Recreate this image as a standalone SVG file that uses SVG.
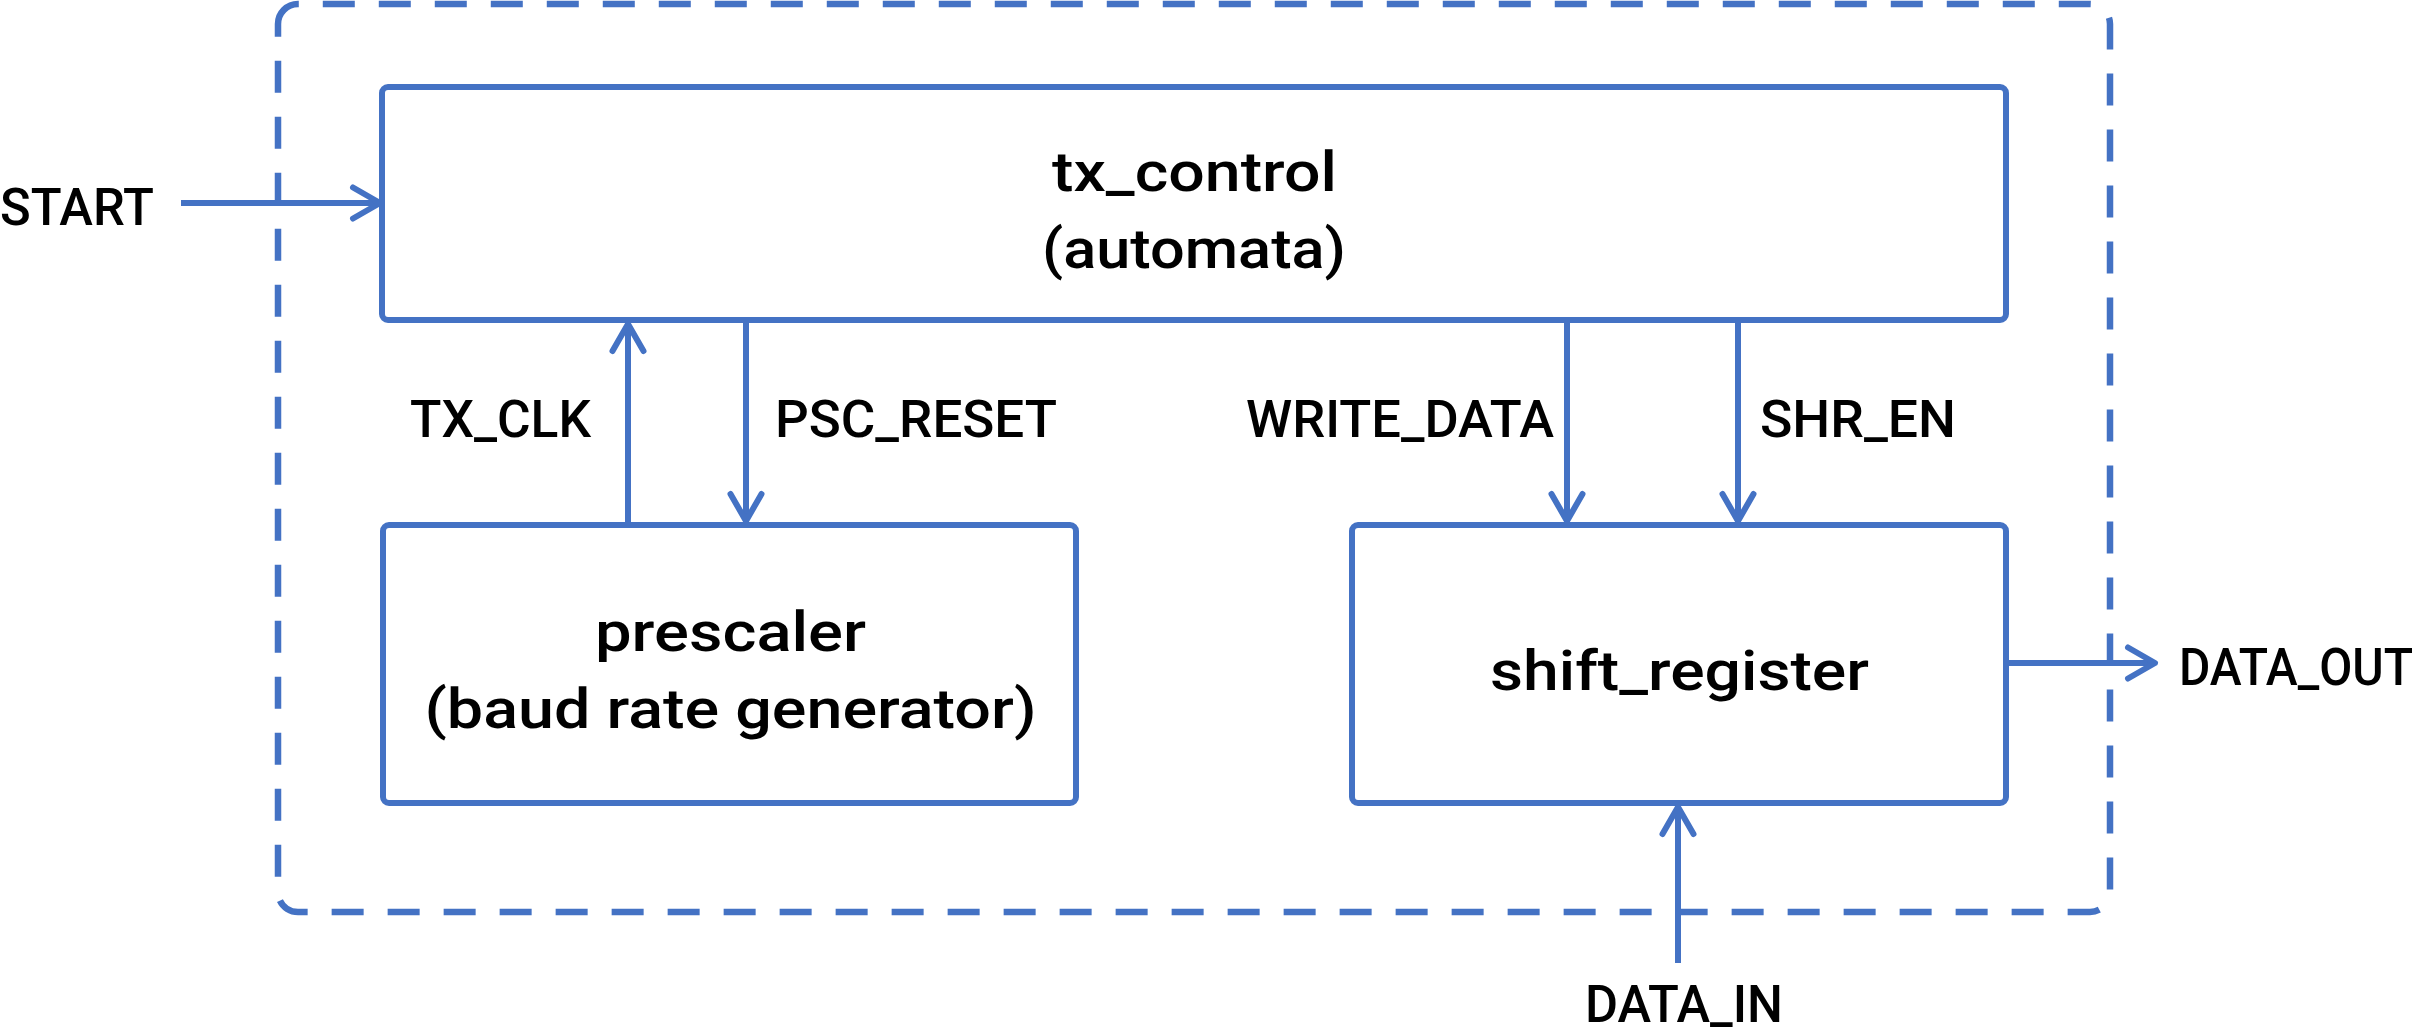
<svg xmlns="http://www.w3.org/2000/svg" width="2423" height="1029" viewBox="0 0 2423 1029">
  <style>
    .frame { fill: none; stroke: #4472C4; stroke-width: 6.5; stroke-dasharray: 32 24; }
    .block { fill: #FFFFFF; stroke: #4472C4; stroke-width: 6; }
    .wire { fill: none; stroke: #4472C4; stroke-width: 6; stroke-linecap: butt; }
    .title { font-family: Roboto, "Liberation Sans", sans-serif; font-weight: 500; font-size: 56px; fill: #000000; text-anchor: middle; }
    .sig { font-family: Roboto, "Liberation Sans", sans-serif; font-weight: 500; font-size: 52px; fill: #000000; }
  </style>
  <defs>
    <marker id="open-arrow" markerUnits="userSpaceOnUse" markerWidth="60" markerHeight="60" refX="0" refY="0" viewBox="-40 -30 60 60" orient="auto" overflow="visible">
      <path d="M-27,-15.5 L0,0 L-27,15.5" fill="none" stroke="#4472C4" stroke-width="6" stroke-linecap="round" stroke-linejoin="round"/>
    </marker>
  </defs>

  <rect width="2423" height="1029" fill="#FFFFFF"/>

  <!-- transmitter boundary -->
  <path id="uart-tx-boundary" class="frame" d="M278,24 A20,20 0 0 1 298,4 H2090 A20,20 0 0 1 2110,24 V892 A20,20 0 0 1 2090,912 H298 A20,20 0 0 1 278,892 Z"/>

  <!-- signal wires -->
  <g id="connectors">
    <path id="wire-start" class="wire" d="M181,203 H380" marker-end="url(#open-arrow)"/>
    <path id="wire-tx-clk" class="wire" d="M628,525 V324" marker-end="url(#open-arrow)"/>
    <path id="wire-psc-reset" class="wire" d="M746,320 V521" marker-end="url(#open-arrow)"/>
    <path id="wire-write-data" class="wire" d="M1567,320 V521" marker-end="url(#open-arrow)"/>
    <path id="wire-shr-en" class="wire" d="M1738,320 V521" marker-end="url(#open-arrow)"/>
    <path id="wire-data-out" class="wire" d="M2006,663 H2155" marker-end="url(#open-arrow)"/>
    <path id="wire-data-in" class="wire" d="M1678,963 V807" marker-end="url(#open-arrow)"/>

    <text class="sig" x="0" y="225" textLength="154" lengthAdjust="spacingAndGlyphs">START</text>
    <text class="sig" x="410" y="437" textLength="181" lengthAdjust="spacingAndGlyphs">TX_CLK</text>
    <text class="sig" x="775" y="437" textLength="282" lengthAdjust="spacingAndGlyphs">PSC_RESET</text>
    <text class="sig" x="1246" y="437" textLength="308" lengthAdjust="spacingAndGlyphs">WRITE_DATA</text>
    <text class="sig" x="1760" y="437" textLength="196" lengthAdjust="spacingAndGlyphs">SHR_EN</text>
    <text class="sig" x="2179" y="685" textLength="234" lengthAdjust="spacingAndGlyphs">DATA_OUT</text>
    <text class="sig" x="1585" y="1022" textLength="198" lengthAdjust="spacingAndGlyphs">DATA_IN</text>
  </g>

  <!-- control state machine -->
  <g id="tx_control">
    <rect class="block" x="382" y="87" width="1624" height="233" rx="6"/>
    <text class="title" x="1194.5" y="191" textLength="285" lengthAdjust="spacingAndGlyphs">tx_control</text>
    <text class="title" x="1194" y="268" textLength="304" lengthAdjust="spacingAndGlyphs">(automata)</text>
  </g>

  <!-- baud rate generator -->
  <g id="prescaler">
    <rect class="block" x="383" y="525" width="693" height="278" rx="6"/>
    <text class="title" x="730.5" y="651" textLength="271" lengthAdjust="spacingAndGlyphs">prescaler</text>
    <text class="title" x="730.5" y="728" textLength="612" lengthAdjust="spacingAndGlyphs">(baud rate generator)</text>
  </g>

  <!-- serialiser -->
  <g id="shift_register">
    <rect class="block" x="1352" y="525" width="654" height="278" rx="6"/>
    <text class="title" x="1679.5" y="690" textLength="379" lengthAdjust="spacingAndGlyphs">shift_register</text>
  </g>
</svg>
